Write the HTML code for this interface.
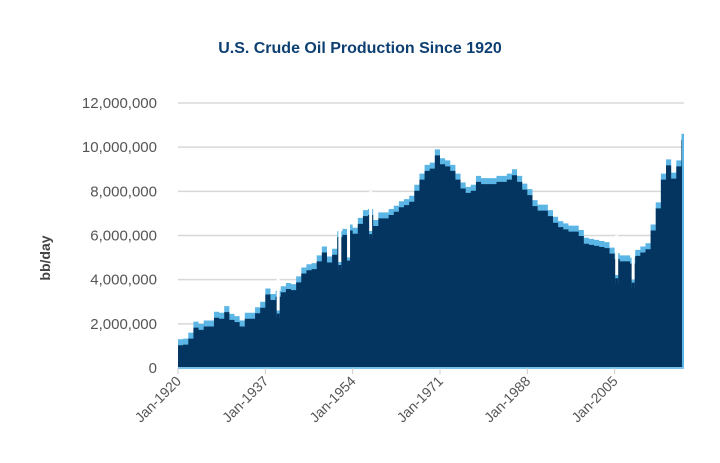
<!DOCTYPE html>
<html><head><meta charset="utf-8">
<style>
body{margin:0;background:#fff;}
svg{display:block;font-family:"Liberation Sans",sans-serif;}
</style></head>
<body>
<svg id="chart" width="720" height="463" viewBox="0 0 720 463">
<text x="360" y="53" text-anchor="middle" font-size="16" font-weight="bold" fill="#0d3f73">U.S. Crude Oil Production Since 1920</text>
<text transform="translate(50,258) rotate(-90)" text-anchor="middle" font-size="14" font-weight="bold" fill="#444">bb/day</text>
<g id="grid"></g><g id="yticks"></g><g id="areas"></g><g id="xaxis"></g>
</svg>
<script>
const years=[1920,1921,1922,1923,1924,1925,1926,1927,1928,1929,1930,1931,1932,1933,1934,1935,1936,1937,1938,1939,1940,1941,1942,1943,1944,1945,1946,1947,1948,1949,1950,1951,1952,1953,1954,1955,1956,1957,1958,1959,1960,1961,1962,1963,1964,1965,1966,1967,1968,1969,1970,1971,1972,1973,1974,1975,1976,1977,1978,1979,1980,1981,1982,1983,1984,1985,1986,1987,1988,1989,1990,1991,1992,1993,1994,1995,1996,1997,1998,1999,2000,2001,2002,2003,2004,2005,2006,2007,2008,2009,2010,2011,2012,2013,2014,2015,2016,2017,2018];
const production=[1300000,1330000,1600000,2100000,2000000,2150000,2150000,2550000,2500000,2800000,2450000,2350000,2150000,2500000,2500000,2750000,3000000,3600000,3350000,3500000,3700000,3850000,3800000,4150000,4550000,4700000,4750000,5100000,5500000,5050000,5400000,6200000,6300000,6500000,6350000,6800000,7150000,7200000,6700000,7050000,7050000,7200000,7350000,7550000,7650000,7800000,8300000,8800000,9200000,9300000,9900000,9500000,9400000,9200000,8800000,8400000,8200000,8300000,8700000,8600000,8600000,8600000,8700000,8700000,8800000,9000000,8700000,8350000,8100000,7600000,7400000,7400000,7150000,6850000,6650000,6550000,6450000,6450000,6250000,5900000,5850000,5800000,5750000,5700000,5450000,5200000,5100000,5100000,5000000,5350000,5500000,5650000,6500000,7500000,8800000,9450000,8850000,9400000,10600000];
const dipYears=[1939.5,1951.5,1953.2,1957.5,2005.4,2008.6];
const dipValues=[2600000,4800000,5000000,6200000,4200000,4000000];
const yTicks=[0,2000000,4000000,6000000,8000000,10000000,12000000];
const xTickYears=[1920,1937,1954,1971,1988,2005];
const x0=178,x1=684,y0=368,yTop=103;
const xs=y=>x0+(y-1920)*(x1-x0)/(2018.5-1920);
const ys=v=>y0-(v/12000000)*(y0-yTop);
const NS='http://www.w3.org/2000/svg';
function mk(t,a,p){const e=document.createElementNS(NS,t);for(const k in a)e.setAttribute(k,a[k]);p.appendChild(e);return e;}
const grid=document.getElementById('grid'),yt=document.getElementById('yticks');
yTicks.forEach(v=>{
  if(v>0){const l=mk('line',{x1:x0,x2:x1,y1:ys(v),y2:ys(v),stroke:'#d8d8d8','stroke-width':1.5},grid);
  
  }
  const t=mk('text',{x:157,y:ys(v)+5,'text-anchor':'end','font-size':15,fill:'#555'},yt);
  t.textContent=v.toLocaleString('en-US');
  
  
});
function stepPath(off){
  let d='M'+x0+','+y0;
  years.forEach((y,i)=>{const xa=xs(y),xb=i<years.length-1?xs(years[i+1]):x1;const yy=Math.min(y0,ys(production[i])+off);d+=' L'+xa+','+yy+' L'+xb+','+yy;});
  return d+' L'+x1+','+y0+' Z';
}
const ar=document.getElementById('areas');
const light=mk('path',{d:stepPath(0),fill:'#5bb6e6'},ar);


const dark=mk('path',{d:stepPath(6),fill:'#043560'},ar);


dipYears.forEach((y,i)=>{
  const x=xs(y);
  const r=mk('rect',{x:x-1.5,y:ys(dipValues[i])-40,width:3,height:40,fill:'#fff'},ar);
  
  
  const r2=mk('rect',{x:x-1.5,y:ys(dipValues[i]),width:3,height:8,fill:'#5bb6e6'},ar);
  
  
});
/* refill lower part of dips beneath dip value handled by dark area; restore dark beneath edge */
dipYears.forEach((y,i)=>{
  const x=xs(y);
  mk('rect',{x:x-1.5,y:ys(dipValues[i])+3,width:3,height:y0-ys(dipValues[i])-3,fill:'#043560'},ar);
});
mk('rect',{x:x1-2,y:ys(production[production.length-1]),width:2,height:y0-ys(production[production.length-1]),fill:'#5bb6e6'},ar);
const xa=document.getElementById('xaxis');
const ax=mk('line',{x1:x0,x2:x1,y1:y0,y2:y0,stroke:'#7cc3ea','stroke-width':2},xa);


xTickYears.forEach(y=>{
  const x=xs(y);
  mk('line',{x1:x,x2:x,y1:y0,y2:y0+6,stroke:'#ccc','stroke-width':1},xa);
  const t=mk('text',{transform:'translate('+(x+4)+','+(y0+14)+') rotate(-45)','text-anchor':'end','font-size':14,fill:'#555'},xa);
  t.textContent='Jan-'+y;
  
  
});
</script>
</body></html>
